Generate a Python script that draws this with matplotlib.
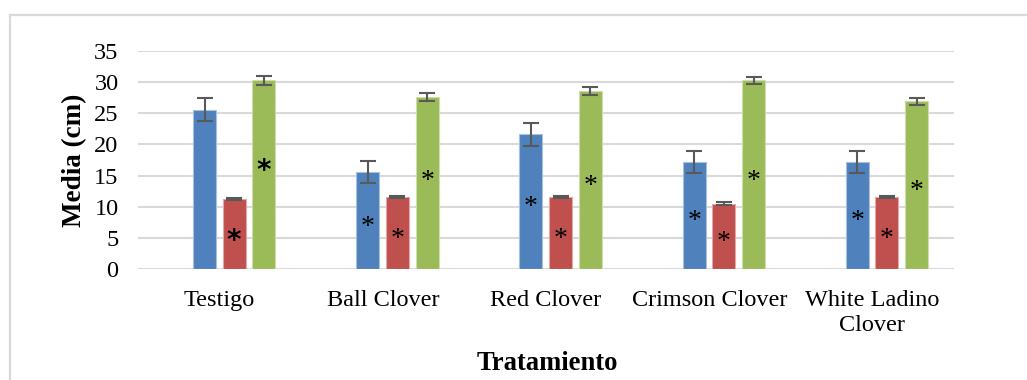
import matplotlib
matplotlib.use("Agg")
import matplotlib.pyplot as plt
import numpy as np
from matplotlib.lines import Line2D

# Category labels and series values (cm)
categories = ["Testigo", "Ball Clover", "Red Clover", "Crimson Clover", "White Ladino\nClover"]
serie_1 = [25.6, 15.6, 21.6, 17.2, 17.2]
serie_2 = [11.2, 11.55, 11.55, 10.5, 11.55]
serie_3 = [30.3, 27.6, 28.6, 30.3, 26.9]
error_1 = [1.8, 1.8, 1.8, 1.8, 1.8]
error_2 = [0.2, 0.15, 0.15, 0.2, 0.15]
error_3 = [0.7, 0.6, 0.6, 0.6, 0.6]

# Heights at which the significance asterisks sit inside each bar (nan = none)
star_1 = [np.nan, 8.0, 11.1, 9.0, 9.0]
star_2 = [5.0, 6.1, 6.1, 5.6, 6.1]
star_3 = [16.3, 15.4, 14.6, 15.4, 13.8]
star_bold = [True, False, False, False, False]

W, H = 1027, 380
fig = plt.figure(figsize=(W / 100, H / 100), dpi=100)
serif = ["Liberation Serif", "DejaVu Serif"]

# Light chart-area frame (open at right and bottom)
frame_col = "#D9D9D9"
fig.add_artist(Line2D([10 / W, 1.0], [1 - 15 / H, 1 - 15 / H], color=frame_col, lw=1.6,
                      transform=fig.transFigure))
fig.add_artist(Line2D([10 / W, 10 / W], [0.0, 1 - 15 / H], color=frame_col, lw=1.6,
                      transform=fig.transFigure))

ax = fig.add_axes([138 / W, (H - 269) / H, 816 / W, 218 / H])

x = np.arange(len(categories))
bw = 0.141
offsets = [-0.092, 0.089, 0.272]
colors = ["#4F81BD", "#C0504D", "#9BBB59"]
edges = ["#A7C0DE", "#E0A8A6", "#CDDDAC"]
series = [serie_1, serie_2, serie_3]
errors = [error_1, error_2, error_3]
stars = [star_1, star_2, star_3]

for vals, errs, st, off, c, ec in zip(series, errors, stars, offsets, colors, edges):
    xs = x + off
    ax.bar(xs, vals, width=bw, color=c, edgecolor=ec, linewidth=0.8, zorder=3)
    ax.errorbar(xs, vals, yerr=errs, fmt="none", ecolor="#595959", elinewidth=1.5,
                capsize=5.5, capthick=1.5, zorder=4)
    for xi, sy, b in zip(xs, st, star_bold):
        if np.isnan(sy):
            continue
        if b:
            ax.text(xi, sy - 0.5, "*", ha="center", va="center", fontsize=20,
                    fontweight="bold", family=["DejaVu Sans"], color="black", zorder=5)
        else:
            ax.text(xi, sy - 1.3, "*", ha="center", va="center", fontsize=20,
                    family=serif, color="black", zorder=5)

ax.set_xlim(-0.5, len(categories) - 0.5)
ax.set_ylim(0, 35)
ax.set_yticks(np.arange(0, 36, 5))
ax.yaxis.grid(True, color="#D9D9D9", lw=1.5, zorder=0)
ax.set_axisbelow(True)
for s in ["top", "right", "left", "bottom"]:
    ax.spines[s].set_visible(False)
ax.tick_params(axis="both", length=0, labelsize=17.5)
ax.tick_params(axis="y", pad=14)
ax.tick_params(axis="x", pad=15)
ax.set_xticks(x)
ax.set_xticklabels(categories, family=serif, linespacing=1.28)
for lab in ax.get_yticklabels():
    lab.set_family(serif)

ax.set_ylabel("Media (cm)", family=serif, fontsize=19.5, fontweight="bold", labelpad=5)
fig.text(547 / W, 1 - 363 / H, "Tratamiento", family=serif, fontsize=19.2,
         fontweight="bold", ha="center", va="center")

fig.savefig("out.png", dpi=100, facecolor="white")
